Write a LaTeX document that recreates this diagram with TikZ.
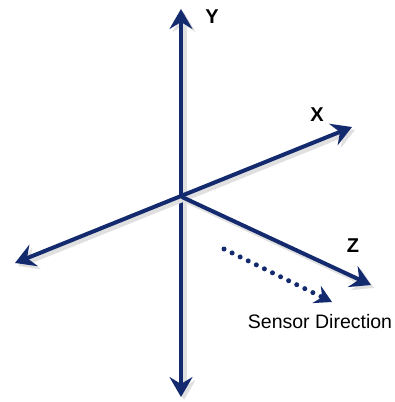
\documentclass[tikz,border=0pt]{standalone}
\usepackage{fontspec}
\setmainfont{Liberation Sans}
\usetikzlibrary{arrows.meta}
\definecolor{axisblue}{RGB}{20,42,110}

\begin{document}
\begin{tikzpicture}[
  x=1pt, y=-1pt,
  >={Stealth[length=20pt, width=23pt, inset=7pt]},
  axisline/.style={<->, line width=4pt, draw=axisblue,
                   preaction={draw=black!12, line width=5pt, transform canvas={shift={(3pt,-3pt)}}}},
  zline/.style={->, line width=4pt, draw=axisblue,
                preaction={draw=black!12, line width=5pt, transform canvas={shift={(3pt,-3pt)}}}},
  sensor/.style={-{Stealth[length=17pt, width=19pt, inset=6pt]}, line width=5pt, draw=axisblue,
                 line cap=round, dash pattern=on 0pt off 9pt},
  axlbl/.style={font=\bfseries\fontsize{20}{20}\selectfont, inner sep=0pt},
  senslbl/.style={font=\fontsize{19.5}{19.5}\selectfont, inner sep=0pt},
]
\useasboundingbox (0,0) rectangle (394,402);

% axis ends
\coordinate (o)    at (182,197);
\coordinate (ytop) at (181,9);
\coordinate (ybot) at (181,397);
\coordinate (xpos) at (352,127);
\coordinate (xneg) at (15,263);
\coordinate (zpos) at (371,285);
\coordinate (sfrom) at (224,249);
\coordinate (sto)   at (332,302);

\node[axlbl] (ylbl) at (212,17)  {Y};
\node[axlbl] (xlbl) at (317,115) {X};
\node[axlbl] (zlbl) at (353,246) {Z};
\node[senslbl] (slbl) at (320,322) {Sensor Direction};

\draw[axisline] (ybot) -- (ytop);
\draw[axisline] (xneg) -- (xpos);
\draw[zline] (o) -- (zpos);
\draw[sensor] (sfrom) -- (sto);

\end{tikzpicture}
\end{document}
